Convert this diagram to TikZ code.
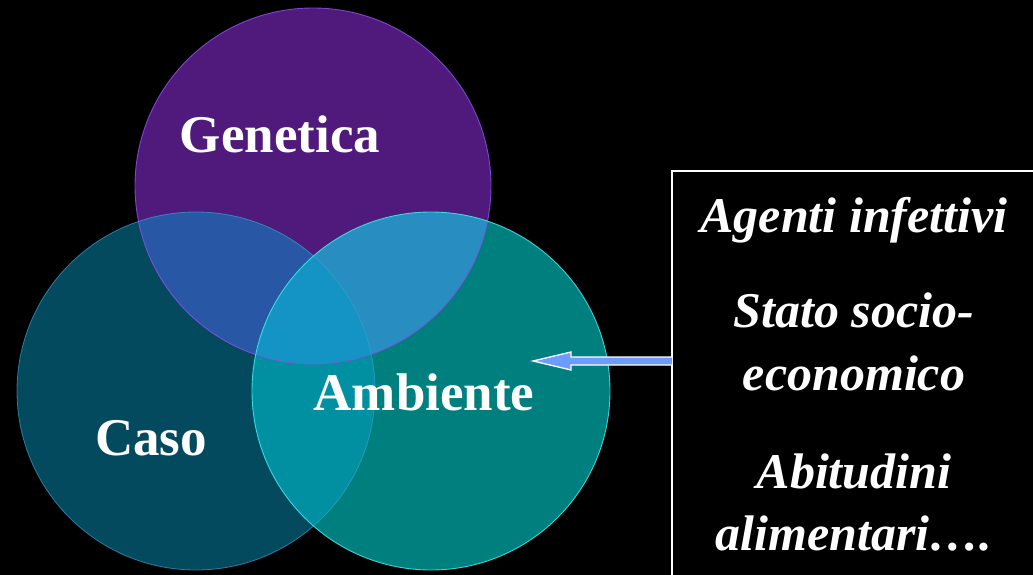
\documentclass[tikz,border=0pt]{standalone}
\usepackage{fontspec}
\setmainfont{Liberation Serif}
\begin{document}
\begin{tikzpicture}[x=1pt,y=-1pt,
  lbl/.style={text=white,font=\fontsize{53}{55}\selectfont\bfseries,anchor=base,inner sep=0pt},
  scr/.style={text=white,font=\fontsize{50}{52}\selectfont\bfseries\itshape,anchor=base,inner sep=0pt}]
\definecolor{cG}{HTML}{4F1A7B}
\definecolor{cC}{HTML}{044A5E}
\definecolor{cA}{HTML}{007F7F}
\definecolor{cGC}{HTML}{2858A5}
\definecolor{cGA}{HTML}{288DC1}
\definecolor{cCA}{HTML}{0090A2}
\definecolor{cGCA}{HTML}{1493C5}
\definecolor{oG}{HTML}{8A4FE6}
\definecolor{oC}{HTML}{3A9FD0}
\definecolor{oA}{HTML}{3FE3E3}
\definecolor{arr}{HTML}{6E9BFF}
\useasboundingbox (0,0) rectangle (1033,575);
\clip (0,0) rectangle (1033,575);
\fill[black] (0,0) rectangle (1033,575);
% circles
\def\Gc{(313,186) circle (178)}
\def\Cc{(196,391) circle (179)}
\def\Ac{(431,391) circle (179)}
\fill[cG] \Gc;
\fill[cC] \Cc;
\fill[cA] \Ac;
\begin{scope}\clip \Gc; \fill[cGC] \Cc; \end{scope}
\begin{scope}\clip \Gc; \fill[cGA] \Ac; \end{scope}
\begin{scope}\clip \Cc; \fill[cCA] \Ac; \end{scope}
\begin{scope}\clip \Gc; \clip \Cc; \fill[cGCA] \Ac; \end{scope}
\draw[oG, line width=0.9pt, opacity=0.85] \Gc;
\draw[oC, line width=0.8pt, opacity=0.7] \Cc;
\draw[oA, line width=0.9pt, opacity=0.9] \Ac;
% labels
\node[lbl] (gen) at (280,153) {Genetica};
\node[lbl] (amb) at (424,410) {Ambiente};
\node[lbl] (caso) at (151,455) {Caso};
% box
\draw[white, line width=1.5pt] (1040,171) -- (672,171) -- (672,590);
\coordinate (boxw) at (672,361);
\node[scr] (t1) at (854,232) {Agenti infettivi};
\node[scr] (t2) at (854,327) {Stato socio-};
\node[scr] (t3) at (854,390) {economico};
\node[scr] (t4) at (854,488) {Abitudini};
\node[scr] (t5) at (854,550) {alimentari….};
% arrow
\coordinate (tip) at (533,361);
\fill[arr] ([yshift=-4]boxw) -- ([xshift=38,yshift=-4]tip) -- ([xshift=38,yshift=-9]tip) -- (tip)
  -- ([xshift=38,yshift=9]tip) -- ([xshift=38,yshift=4]tip) -- ([yshift=4]boxw) -- cycle;
\draw[white, line width=1.3pt, line join=miter] ([yshift=-4]boxw) -- ([xshift=38,yshift=-4]tip) -- ([xshift=38,yshift=-9]tip) -- (tip)
  -- ([xshift=38,yshift=9]tip) -- ([xshift=38,yshift=4]tip) -- ([yshift=4]boxw);
\end{tikzpicture}
\end{document}
